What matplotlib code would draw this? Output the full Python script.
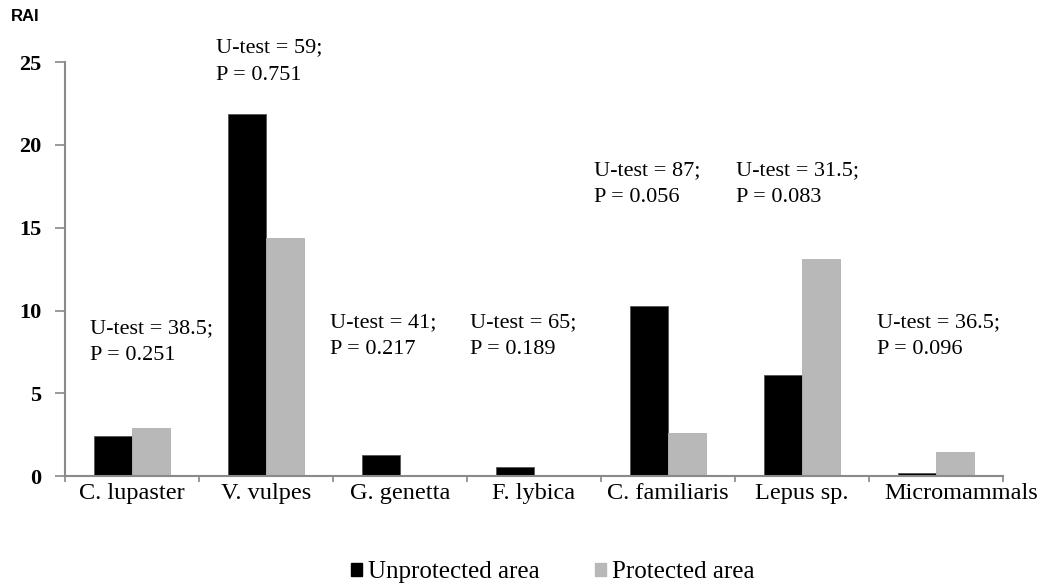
import matplotlib
matplotlib.use("Agg")
import matplotlib.pyplot as plt
import matplotlib.transforms as mtransforms
from matplotlib.patches import Patch
import numpy as np

species = ["C. lupaster", "V. vulpes", "G. genetta", "F. lybica",
           "C. familiaris", "Lepus sp.", "Micromammals"]
unprotected = [2.4, 21.9, 1.3, 0.55, 10.3, 6.1, 0.2]
protected = [2.9, 14.4, 0.0, 0.0, 2.6, 13.1, 1.45]
u_test = ["38.5", "59", "41", "65", "87", "31.5", "36.5"]
p_val = ["0.251", "0.751", "0.217", "0.189", "0.056", "0.083", "0.096"]

# where the test labels sit (data coords, left edge / vertical centre)
lbl_x = [-0.31, 0.63, 1.48, 2.52, 3.45, 4.51, 5.56]
lbl_y = [8.1, 25.05, 8.45, 8.45, 17.63, 17.63, 8.45]

serif = ["Liberation Serif", "DejaVu Serif"]

fig = plt.figure(figsize=(10.49, 5.87), dpi=100)
ax = fig.add_axes([0.062, 0.189, 0.894, 0.705])

x = np.arange(len(species))
w = 0.285
ax.bar(x - w/2, unprotected, w, color="black", edgecolor="#555555", linewidth=0.6)
ax.bar(x + w/2, protected, w, color="#b8b8b8", edgecolor="#b0b0b0", linewidth=0.6)

for i in range(len(species)):
    ax.text(lbl_x[i], lbl_y[i], "U-test = %s;\nP = %s" % (u_test[i], p_val[i]),
            ha="left", va="center", fontsize=16, family=serif,
            linespacing=1.6, clip_on=False)

ax.set_xlim(-0.5, len(species) - 0.5)
ax.set_ylim(0, 25)
ax.set_yticks([0, 5, 10, 15, 20, 25])
ax.set_yticklabels(["0", "5", "10", "15", "20", "25"], fontsize=16,
                   fontweight="bold", family=serif)

# category labels centred, ticks on category boundaries
ax.set_xticks(x)
ax.set_xticklabels(species, fontsize=17.5, family=serif)
ax.tick_params(axis="x", which="major", length=0, pad=5)
ax.set_xticks(np.arange(len(species) + 1) - 0.5, minor=True)
ax.tick_params(axis="x", which="minor", length=4, color="#888888", width=1.2)
ax.tick_params(axis="y", length=7, color="#888888", width=1.2, pad=10)

# last label overhangs to the right in the original
lab = ax.get_xticklabels()[-1]
shift = mtransforms.ScaledTranslation(0.25, 0, fig.dpi_scale_trans)
lab.set_transform(lab.get_transform() + shift)

for s in ["top", "right"]:
    ax.spines[s].set_visible(False)
for s in ["left", "bottom"]:
    ax.spines[s].set_color("#8a8a8a")
    ax.spines[s].set_linewidth(1.5)

fig.text(0.01, 0.972, "RAI", fontsize=12, fontweight="bold",
         family="Liberation Sans", va="center")

handles = [Patch(color="black"), Patch(color="#b8b8b8")]
fig.legend(handles, ["Unprotected area", "Protected area"], ncol=2,
           loc="center", bbox_to_anchor=(0.527, 0.025), frameon=False,
           prop={"family": serif, "size": 18}, handlelength=0.45,
           handleheight=0.45, handletextpad=0.25, columnspacing=2.2)

fig.savefig("out.png", dpi=100)
